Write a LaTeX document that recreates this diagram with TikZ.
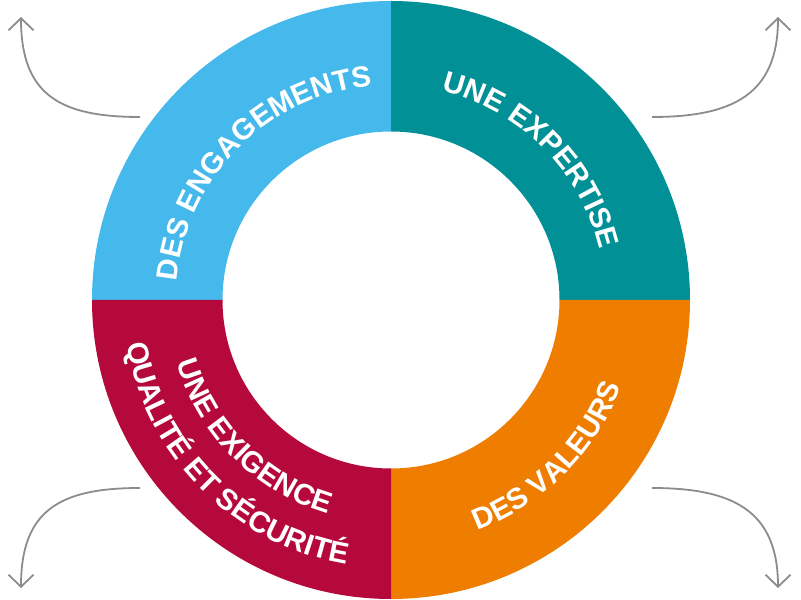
\documentclass[tikz,border=0pt]{standalone}
\usepackage{fontspec}
\setmainfont{Liberation Sans}
\usetikzlibrary{decorations.text,arrows.meta}
\definecolor{cblue}{HTML}{45B9EC}
\definecolor{cteal}{HTML}{009096}
\definecolor{corange}{HTML}{EF7D00}
\definecolor{ccrimson}{HTML}{B5093B}
\definecolor{cgray}{HTML}{8C8C8C}
\newcommand\ringfont{\fontsize{29.5}{31}\selectfont\bfseries}
\begin{document}
\begin{tikzpicture}[x=1pt,y=1pt,
  flow/.style={draw=cgray,line width=1.8pt,-{Straight Barb[length=12pt,width=25pt]}},
  ringtext/.style={decorate,decoration={text along path,text align=center,text color=white,text={|\ringfont|#1}}}]
\useasboundingbox (0,0) rectangle (801,600);
\begin{scope}[shift={(391,300)}]
  \fill[cblue] (180:299) arc[start angle=180,end angle=90,radius=299pt] -- (90:168.5) arc[start angle=90,end angle=180,radius=168.5pt] -- cycle;
  \fill[cteal] (90:299) arc[start angle=90,end angle=0,radius=299pt] -- (0:168.5) arc[start angle=0,end angle=90,radius=168.5pt] -- cycle;
  \fill[corange] (0:299) arc[start angle=0,end angle=-90,radius=299pt] -- (-90:168.5) arc[start angle=-90,end angle=0,radius=168.5pt] -- cycle;
  \fill[ccrimson] (-90:299) arc[start angle=-90,end angle=-180,radius=299pt] -- (180:168.5) arc[start angle=180,end angle=270,radius=168.5pt] -- cycle;
  \path[ringtext={DES ENGAGEMENTS}] (180:215) arc[start angle=180,end angle=90,radius=215pt];
  \path[ringtext={UNE EXPERTISE}] (90:215) arc[start angle=90,end angle=0,radius=215pt];
  \path[ringtext={DES VALEURS}] (-90:246) arc[start angle=-90,end angle=0,radius=246pt];
  \path[ringtext={UNE EXIGENCE}] (180:223) arc[start angle=180,end angle=270,radius=223pt];
  \path[ringtext={QUALITÉ ET SÉCURITÉ}] (180:268) arc[start angle=180,end angle=270,radius=268pt];
\end{scope}
\coordinate (tlA) at (140,483); \coordinate (tlB) at (21,583);
\coordinate (trA) at (652,483); \coordinate (trB) at (778,583);
\coordinate (blA) at (140,112); \coordinate (blB) at (21,12);
\coordinate (brA) at (652,112); \coordinate (brB) at (778,12);
\draw[flow] (tlA) .. controls (60,483) and (21,505) .. (tlB);
\draw[flow] (trA) .. controls (732,483) and (778,505) .. (trB);
\draw[flow] (blA) .. controls (60,112) and (21,90) .. (blB);
\draw[flow] (brA) .. controls (732,112) and (778,90) .. (brB);
\end{tikzpicture}
\end{document}
